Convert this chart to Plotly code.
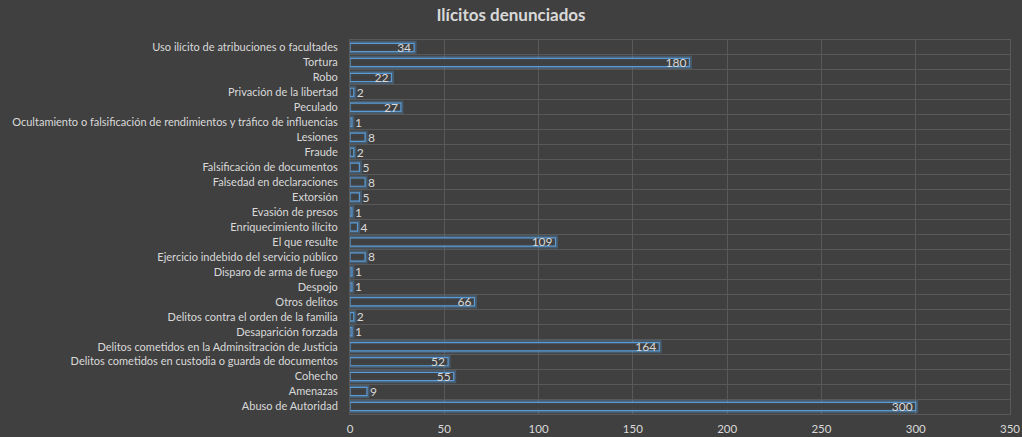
import plotly.graph_objects as go

# categories, bottom to top as in the reference
categorias = [
    "Abuso de Autoridad",
    "Amenazas",
    "Cohecho",
    "Delitos cometidos en custodia o guarda de documentos",
    "Delitos cometidos en la Adminsitración de Justicia",
    "Desaparición forzada",
    "Delitos contra el orden de la familia",
    "Otros delitos",
    "Despojo",
    "Disparo de arma de fuego",
    "Ejercicio indebido del servicio público",
    "El que resulte",
    "Enriquecimiento ilícito",
    "Evasión de presos",
    "Extorsión",
    "Falsedad en declaraciones",
    "Falsificación de documentos",
    "Fraude",
    "Lesiones",
    "Ocultamiento o falsificación de rendimientos y tráfico de influencias",
    "Peculado",
    "Privación de la libertad",
    "Robo",
    "Tortura",
    "Uso ilícito de atribuciones o facultades",
]
denuncias = [300, 9, 55, 52, 164, 1, 2, 66, 1, 1, 8, 109, 4, 1, 5, 8, 5, 2, 8, 1, 27, 2, 22, 180, 34]
x_ticks = [0, 50, 100, 150, 200, 250, 300, 350]

azul = "#5b9bd5"
texto = "#d9d9d9"
fondo = "#404040"
rejilla = "#595959"

posiciones = ["inside" if v >= 20 else "outside" for v in denuncias]

fig = go.Figure()
# soft glow behind the bars
fig.add_trace(go.Bar(
    y=categorias, x=denuncias, orientation="h",
    marker=dict(color="rgba(0,0,0,0)", line=dict(color="rgba(91,155,213,0.3)", width=5)),
    hoverinfo="skip", showlegend=False,
))
fig.add_trace(go.Bar(
    y=categorias, x=denuncias, orientation="h",
    marker=dict(color="rgba(64,64,64,0.85)", line=dict(color=azul, width=1.2)),
    text=[str(v) for v in denuncias], textposition=posiciones, textangle=0,
    insidetextanchor="end", constraintext="none",
    textfont=dict(color=texto, size=12), cliponaxis=False,
    showlegend=False,
))

fig.update_layout(
    width=1022, height=437,
    paper_bgcolor=fondo, plot_bgcolor=fondo,
    barmode="overlay", bargap=0.45,
    margin=dict(l=350, r=12, t=40, b=23),
    font=dict(family="Lato, Liberation Sans, sans-serif", color=texto, size=11),
    title=dict(text="<b>Ilícitos denunciados</b>", x=0.5, xanchor="center",
               y=0.965, yanchor="middle", font=dict(size=17, color=texto)),
)
fig.update_xaxes(range=[0, 350], tickvals=x_ticks, showgrid=True, gridcolor=rejilla,
                 gridwidth=1, zeroline=False, showline=True, linecolor=rejilla, ticks="",
                 mirror=True, automargin=False, ticklabelstandoff=4,
                 tickfont=dict(size=11.5, color=texto))
fig.update_yaxes(type="category", tickson="boundaries", showgrid=True, gridcolor=rejilla,
                 gridwidth=1, showline=True, linecolor=rejilla, mirror=True,
                 ticks="", ticklen=0, ticklabelstandoff=9, automargin=False,
                 tickfont=dict(size=11, color=texto))

fig.write_html(
    "out.html",
    config={"displayModeBar": False},
    post_script="document.body.style.margin='0';document.body.style.background='#404040';",
)
